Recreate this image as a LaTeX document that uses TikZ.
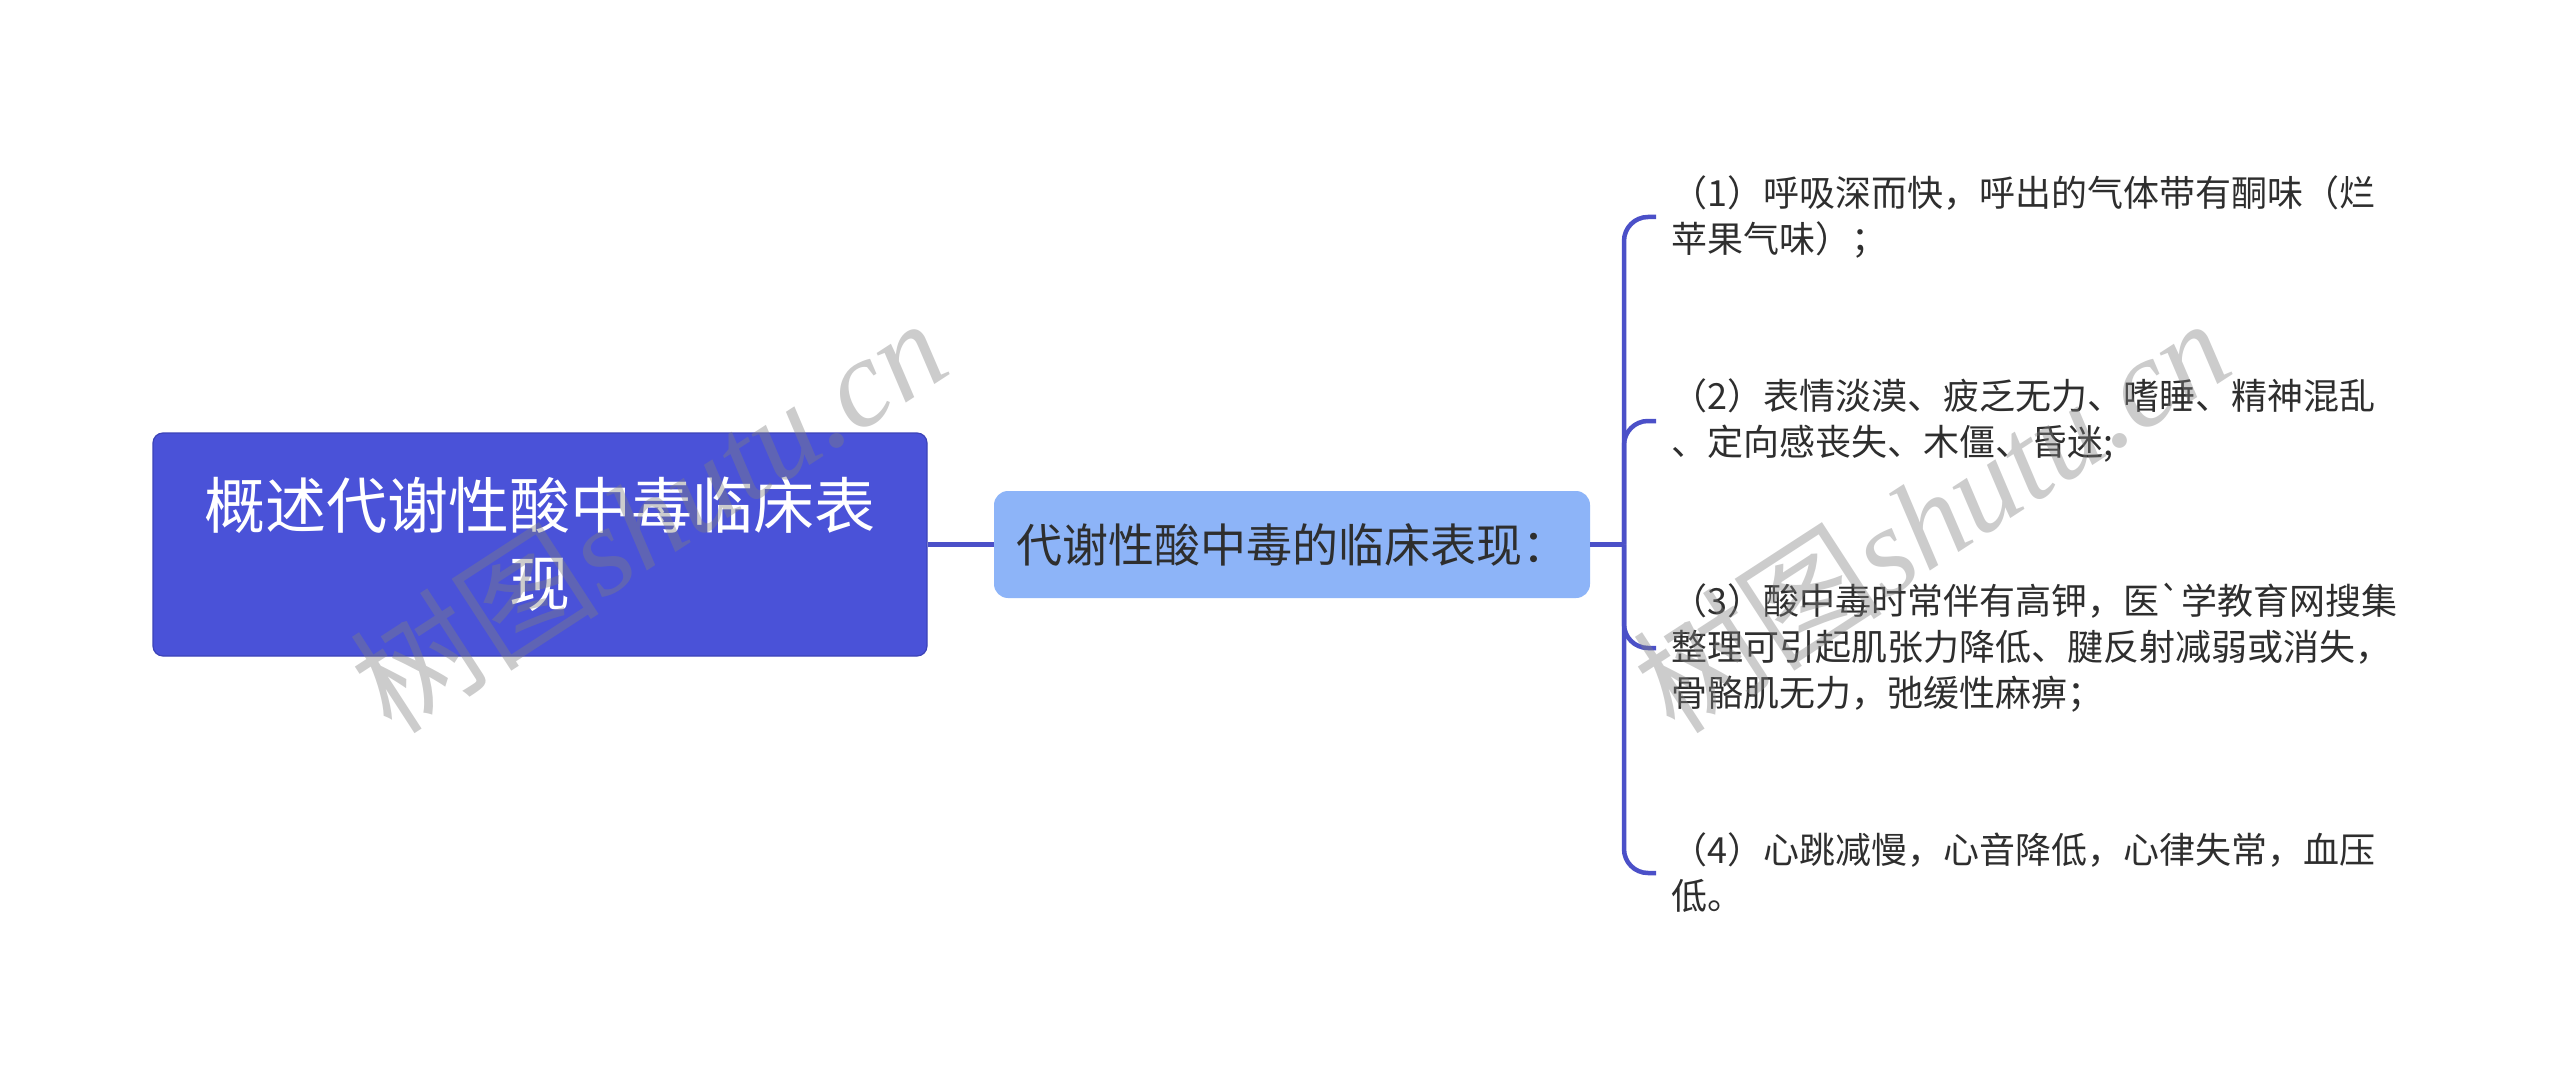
\documentclass[tikz,border=0pt]{standalone}
\usepackage{fontspec}
\newfontfamily\cjk{Noto Sans CJK SC}
\newfontfamily\wmserif{Liberation Serif}
\definecolor{rootfill}{HTML}{4A52D8}
\definecolor{rootedge}{HTML}{3C43B8}
\definecolor{midfill}{HTML}{8DB4F8}
\definecolor{linkcol}{HTML}{4B50C8}
\definecolor{txtdark}{HTML}{2E2E2E}
\tikzset{
  rootbox/.style={draw=rootedge, line width=1.2pt, fill=rootfill, rounded corners=10pt,
    minimum width=774pt, minimum height=223pt, inner sep=0pt, align=center, text=white,
    font={\fontsize{61}{78}\selectfont\cjk}},
  midbox/.style={fill=midfill, rounded corners=14pt, minimum width=596pt, minimum height=107pt,
    inner sep=0pt, align=center, text=txtdark, font={\fontsize{46}{56}\selectfont\cjk}},
  leafbox/.style={anchor=west, inner xsep=15pt, inner ysep=0pt, align=left, text=txtdark,
    font={\fontsize{36}{46}\selectfont\cjk}},
  link/.style={draw=linkcol, line width=4.5pt},
  branch/.style={draw=linkcol, line width=4.5pt, rounded corners=24pt},
  wmark/.style={text=gray, opacity=0.4, rotate=33, inner sep=0pt,
    font={\fontsize{125}{130}\selectfont}}
}
\begin{document}
\begin{tikzpicture}[x=1pt, y=-1pt]
\useasboundingbox[fill=white] (0,0) rectangle (2560,1091);
\node[rootbox] (root) at (540,544.5) {概述代谢性酸中毒临床表\\现};
\node[midbox] (mid) at (1292,544.5) {代谢性酸中毒的临床表现：};
\coordinate (hub) at (1624,544.5);
\node[leafbox] (l1) at (1656,217) {（1）呼吸深而快，呼出的气体带有酮味（烂\\苹果气味）；};
\node[leafbox] (l2) at (1656,421) {（2）表情淡漠、疲乏无力、嗜睡、精神混乱\\、定向感丧失、木僵、昏迷;};
\node[leafbox] (l3) at (1656,648) {（3）酸中毒时常伴有高钾，医`学教育网搜集\\整理可引起肌张力降低、腱反射减弱或消失，\\骨骼肌无力，弛缓性麻痹；};
\node[leafbox] (l4) at (1656,873) {（4）心跳减慢，心音降低，心律失常，血压\\低。};
\draw[link] (root.east) -- (mid.west);
\draw[link] (mid.east) -- (hub);
\draw[branch] (hub) |- (l1.west);
\draw[branch] (hub) |- (l2.west);
\draw[branch] (hub) |- (l3.west);
\draw[branch] (hub) |- (l4.west);
\node[wmark] (wm1) at (648,514) {{\cjk 树图}{\wmserif\itshape shutu.cn}};
\node[wmark] (wm2) at (1931,514) {{\cjk 树图}{\wmserif\itshape shutu.cn}};
\end{tikzpicture}
\end{document}
